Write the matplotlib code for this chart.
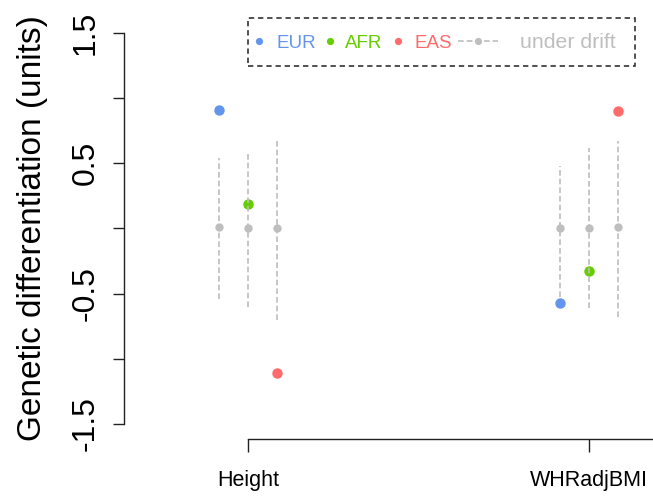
import matplotlib
matplotlib.use('Agg')
import matplotlib.pyplot as plt
import numpy as np
from matplotlib.patches import Rectangle

plt.rcParams['font.family'] = ['Liberation Sans', 'DejaVu Sans']

traits = ['Height', 'WHRadjBMI']
pops = ['EUR', 'AFR', 'EAS']
colors = ['#6495ED', '#66CD00', '#FF6A6A']
drift_col = '#BEBEBE'

# observed differentiation per population (Height, WHRadjBMI)
eur_obs = [0.91, -0.57]
afr_obs = [0.19, -0.33]
eas_obs = [-1.11, 0.90]
# expectation under drift: mean and interval
eur_mean = [0.01, 0.0]
afr_mean = [0.0, 0.0]
eas_mean = [0.0, 0.01]
eur_lo = [-0.54, -0.53]
afr_lo = [-0.60, -0.61]
eas_lo = [-0.70, -0.68]
eur_hi = [0.54, 0.48]
afr_hi = [0.57, 0.62]
eas_hi = [0.69, 0.67]

obs = [eur_obs, afr_obs, eas_obs]
means = [eur_mean, afr_mean, eas_mean]
los = [eur_lo, afr_lo, eas_lo]
his = [eur_hi, afr_hi, eas_hi]

W, H = 653, 498
fig = plt.figure(figsize=(W / 100, H / 100), dpi=100)
ax = fig.add_axes([124 / W, 59 / H, 529 / W, 421 / H])

x = np.arange(1, len(traits) + 1)
offs = [-0.084, 0.0, 0.084]
dash = (0, (3.4, 1.8))

for i in range(3):
    ax.plot(x + offs[i], obs[i], 'o', color=colors[i], ms=7.5, mec='none', zorder=2)
for i in range(3):
    ax.vlines(x + offs[i], los[i], his[i], colors=drift_col, linestyles=dash, lw=1.2, zorder=3)
    ax.plot(x + offs[i], means[i], 'o', color=drift_col, ms=6, mec='none', zorder=4)

ax.set_xlim(0.636, 2.188)
ax.set_ylim(-1.616, 1.615)

for s in ['top', 'right']:
    ax.spines[s].set_visible(False)
ax.spines['left'].set_bounds(-1.5, 1.5)
ax.spines['bottom'].set_bounds(1, 2.188)
for s in ['left', 'bottom']:
    ax.spines[s].set_linewidth(1.0)
    ax.spines[s].set_color('#222222')

yt = np.arange(-1.5, 1.51, 0.5)
ax.set_yticks(yt)
ax.set_yticklabels(['-1.5', '', '-0.5', '', '0.5', '', '1.5'])
ax.tick_params(axis='y', length=8, width=1.0, color='#222222', labelsize=23,
               labelrotation=90, pad=9)
for lab in ax.get_yticklabels():
    lab.set_va('center')
ax.set_xticks(x)
ax.set_xticklabels(traits)
ax.tick_params(axis='x', length=9, width=1.0, color='#222222', labelsize=15.5, pad=13)

ax.set_ylabel('Genetic differentiation (units)', fontsize=24)
ax.yaxis.set_label_coords(-0.143, 0.5)

# legend drawn by hand (R style)
def px(xp, yp):
    return ((xp - 124) / 529, (439 - yp) / 421)

x0, y0 = px(248, 66)
x1, y1 = px(635, 18)
ax.add_patch(Rectangle((x0, y0), x1 - x0, y1 - y0, transform=ax.transAxes, fill=False,
                       ec='#222222', lw=1.1, ls=(0, (3.5, 2.5)), clip_on=False, zorder=5))
ly = px(0, 41)[1]
by = px(0, 47.5)[1]
dots = [259, 330, 398]
texts = [276, 345, 414]
for i in range(3):
    ax.plot(px(dots[i], 0)[0], ly, 'o', color=colors[i], ms=5.2, mec='none',
            transform=ax.transAxes, clip_on=False)
    ax.text(px(texts[i], 0)[0], by, pops[i], color=colors[i], fontsize=13.5,
            transform=ax.transAxes, va='baseline', ha='left')
ax.plot([px(458, 0)[0], px(498, 0)[0]], [ly, ly], color=drift_col, lw=1.2, ls=dash,
        transform=ax.transAxes, clip_on=False)
ax.plot(px(478, 0)[0], ly, 'o', color=drift_col, ms=5.2, mec='none',
        transform=ax.transAxes, clip_on=False)
ax.text(px(520, 0)[0], by, 'under drift', color=drift_col, fontsize=15.3,
        transform=ax.transAxes, va='baseline', ha='left')

fig.savefig('out.png', dpi=100)
